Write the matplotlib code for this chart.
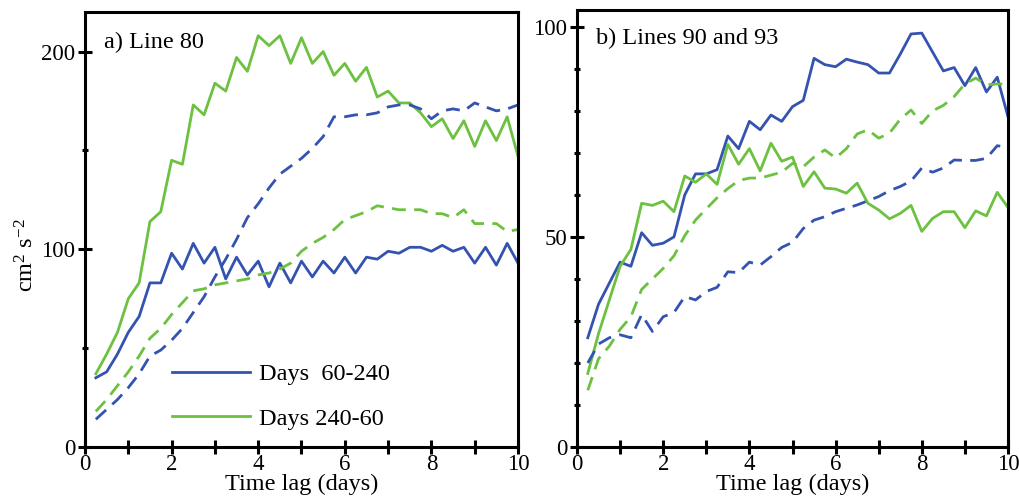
import numpy as np
import matplotlib
matplotlib.use("Agg")
import matplotlib.pyplot as plt
from matplotlib.ticker import MultipleLocator

plt.rcParams['font.family'] = ['Liberation Serif', 'DejaVu Serif']
plt.rcParams['mathtext.fontset'] = 'custom'
plt.rcParams['mathtext.rm'] = 'Liberation Serif'
plt.rcParams['mathtext.it'] = 'Liberation Serif:italic'

# Time lag (days)
lag = np.arange(1, 41) * 0.25

# Panel a) Line 80
a_blue_solid = [35, 38, 47, 58, 66, 83, 83, 98, 90, 103, 93, 101, 85, 96, 87, 94, 81, 93, 83, 94,
                86, 94, 88, 96, 88, 96, 95, 99, 98, 101, 101, 99, 102, 99, 101, 93, 101, 92, 103, 93]
a_green_solid = [37, 47, 58, 75, 83, 114, 119, 145, 143, 173, 168, 184, 180, 197, 190, 208, 203, 208, 194, 207,
                 194, 200, 188, 194, 185, 192, 177, 180, 174, 174, 169, 162, 166, 156, 165, 152, 165, 155, 167, 147]
a_blue_dash = [14, 19, 24, 30, 37, 46, 49, 54, 60, 68, 76, 86, 95, 105, 116, 123, 131, 138, 142, 146,
               151, 157, 167, 167, 168, 168, 169, 172, 173, 173, 171, 166, 170, 171, 170, 174, 172, 170, 171, 173]
a_green_dash = [18, 24, 31, 38, 46, 55, 60, 67, 73, 79, 80, 82, 83, 84, 85, 87, 88, 90, 93, 99,
                103, 106, 110, 115, 117, 119, 122, 121, 120, 120, 120, 118, 118, 116, 120, 113, 113, 113, 109, 110]

# Panel b) Lines 90 and 93
b_blue_solid = [26, 34, 39, 44, 43, 51, 48, 48.5, 50, 60, 65, 65, 66, 74, 71, 77.5, 75.5, 79, 77.5, 81,
                82.5, 92.5, 91, 90.5, 92.3, 91.6, 91, 89, 89, 93.5, 98.3, 98.5, 94, 89.5, 90.3, 86, 90.3, 84.5, 88, 78.6]
b_green_solid = [17.5, 27, 35, 43, 47, 58, 57.5, 58.5, 56, 64.5, 63, 65, 62.5, 72, 67.3, 71, 65.7, 72.3, 68, 69,
                 62, 65.5, 61.6, 61.4, 60.4, 62.8, 58, 56.4, 54.3, 55.6, 57.5, 51.3, 54.4, 56, 56, 52.2, 56.2, 55, 60.6, 57]
b_blue_dash = [20, 24.5, 26, 26.7, 26, 31.5, 27.5, 31, 32, 35.8, 35, 37, 38, 41.7, 41.5, 44, 43.3, 45.3, 47.5, 48.7,
               52, 54, 54.8, 56, 56.8, 57.6, 58.6, 59.6, 61, 62, 63.3, 66.4, 65.4, 66.4, 68.3, 68.2, 68.2, 68.7, 71.7, 71.3]
b_green_dash = [13.5, 21, 24, 28, 31, 37.5, 40, 42.5, 45.5, 50.3, 54, 56.7, 59.3, 61.5, 63.4, 64, 64, 64.7, 65.4, 67.5,
                66.7, 69, 70.7, 68.8, 71, 74.5, 75.5, 73.5, 74.7, 78, 80.2, 77, 80, 81.3, 83.4, 86.4, 87.8, 86.2, 86.4, 86.4]

legend_labels = ['Days  60-240', 'Days 240-60']
panel_titles = ['a) Line 80', 'b) Lines 90 and 93']

BLUE = '#3453b0'
GREEN = '#6cc140'
LW = 2.0
DASH = (0, (5, 3))
FS = 17.5
TFS = 16.5

fig = plt.figure(figsize=(10.19, 4.97), dpi=100)
ax1 = fig.add_axes([85/1019, 50/497, 433/1019, 435/497])
ax2 = fig.add_axes([577/1019, 50/497, 431/1019, 437/497])

def style(ax, ymax, ymajor, yminor):
    ax.set_xlim(0, 10)
    ax.set_ylim(0, ymax)
    for s in ax.spines.values():
        s.set_linewidth(2.2)
    ax.xaxis.set_major_locator(MultipleLocator(2))
    ax.xaxis.set_minor_locator(MultipleLocator(1))
    ax.yaxis.set_major_locator(MultipleLocator(ymajor))
    ax.yaxis.set_minor_locator(MultipleLocator(yminor))
    ax.tick_params(axis='both', which='major', direction='inout', length=10, width=2.2,
                   labelsize=TFS, pad=2)
    ax.tick_params(axis='x', which='major', pad=0)
    ax.tick_params(axis='x', which='minor', direction='inout', length=10, width=2.2)
    ax.tick_params(axis='y', which='minor', direction='inout', length=5, width=2.2)
    ax.set_xlabel('Time lag (days)', fontsize=17.5, labelpad=-1)

l1, = ax1.plot(lag, a_blue_solid, color=BLUE, lw=LW)
l2, = ax1.plot(lag, a_green_solid, color=GREEN, lw=LW)
ax1.plot(lag, a_blue_dash, color=BLUE, lw=LW, linestyle=DASH)
ax1.plot(lag, a_green_dash, color=GREEN, lw=LW, linestyle=DASH)
style(ax1, 220, 100, 50)
ax1.set_ylabel('cm$^{2}$ s$^{-2}$', fontsize=FS)
ax1.yaxis.set_label_coords(-0.108, 0.44)
ax1.text(0.045, 0.93, panel_titles[0], transform=ax1.transAxes, fontsize=FS, va='center', ha='left')
ax1.legend([l1, l2], legend_labels, loc='lower left', bbox_to_anchor=(0.201, 0.04), frameon=False,
           fontsize=FS, handlelength=3.2, handletextpad=0.37, labelspacing=0.92,
           borderpad=0, borderaxespad=0)

ax2.plot(lag, b_blue_solid, color=BLUE, lw=LW)
ax2.plot(lag, b_green_solid, color=GREEN, lw=LW)
ax2.plot(lag, b_blue_dash, color=BLUE, lw=LW, linestyle=DASH)
ax2.plot(lag, b_green_dash, color=GREEN, lw=LW, linestyle=DASH)
style(ax2, 104, 50, 10)
ax2.text(0.045, 0.935, panel_titles[1], transform=ax2.transAxes, fontsize=FS, va='center', ha='left')

fig.savefig('out.png', dpi=100)
